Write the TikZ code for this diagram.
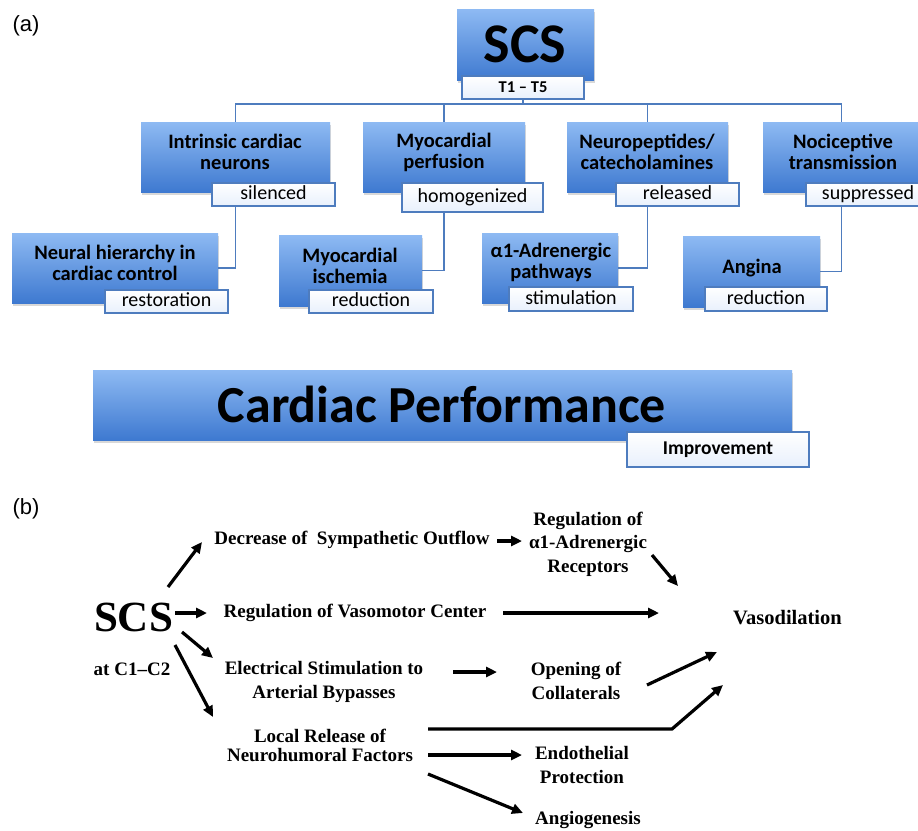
\documentclass[tikz,border=0pt]{standalone}
\usepackage{fontspec}
\setmainfont{Liberation Serif}
\newfontfamily\calib{Carlito}
\newfontfamily\arialf{Liberation Sans}
\usetikzlibrary{shadows,calc,arrows.meta}
\definecolor{boxtop}{RGB}{142,186,243}
\definecolor{boxbot}{RGB}{62,121,208}
\definecolor{tagbot}{RGB}{232,240,252}
\definecolor{linec}{RGB}{78,124,190}
\newcommand\mkbox[6]{\node[#1, minimum width={(#5)-(#3)}, minimum height={(#6)-(#4)}] (#2) at ({((#3)+(#5))/2},{((#4)+(#6))/2}) {};}
\newcommand\mktag[7]{\node[#1, minimum width={(#5)-(#3)}, minimum height={(#6)-(#4)}] (#2) at ({((#3)+(#5))/2},{((#4)+(#6))/2}) {#7};}
\tikzset{
  bluebox/.style={rectangle, inner sep=0pt, top color=boxtop, bottom color=boxbot, draw=none,
    drop shadow={opacity=0.3, shadow xshift=1pt, shadow yshift=-3pt}},
  tagbox/.style={rectangle, inner sep=0pt, top color=white, bottom color=tagbot, draw=linec, line width=1.3pt,
    font=\calib\fontsize{20}{22}\selectfont, text height=13pt, text depth=3pt},
  boldtag/.style={tagbox, font=\calib\bfseries\fontsize{19.5}{22}\selectfont},
  conn/.style={draw=linec, line width=1.5pt},
  boxtxt/.style={font=\calib\bfseries\fontsize{20.5}{21}\selectfont, align=center, inner sep=0pt},
  bigtxt/.style={font=\calib\bfseries\fontsize{52}{56}\selectfont, inner sep=0pt},
  btxt/.style={font=\bfseries\fontsize{19}{23.5}\selectfont, align=center, inner sep=0pt},
  lbl/.style={font=\arialf\fontsize{22}{24}\selectfont, inner sep=0pt},
  arr/.style={-{Triangle[length=11pt,width=10pt]}, line width=3.2pt}
}
\begin{document}
\begin{tikzpicture}[x=1pt,y=-1pt]
\useasboundingbox (0,0) rectangle (918,830);
\fill[white] (0,0) rectangle (918,830);

% ---------- (a) ----------
\node[lbl] (la) at (26,26) {(a)};

% SCS top
\mkbox{bluebox}{a0}{457}{9}{594}{80}
\node[bigtxt, font=\calib\bfseries\fontsize{56}{60}\selectfont] (a0t) at (525,44) {SCS};
\mktag{boldtag, font=\calib\bfseries\fontsize{16.5}{18}\selectfont, text height=11pt, text depth=2pt}{t0}{462}{76}{584}{99}{T1 – T5}

% level 1
\mkbox{bluebox}{b1}{141}{122}{330}{192}
\mkbox{bluebox}{b2}{363}{122}{525}{192}
\mkbox{bluebox}{b3}{567}{122}{728}{192}
\mkbox{bluebox}{b4}{763}{122}{920}{192}
\node[boxtxt] (b1t) at (235,152) {Intrinsic cardiac\\neurons};
\node[boxtxt] (b2t) at (444,152) {Myocardial\\perfusion};
\node[boxtxt] (b3t) at (647,152) {Neuropeptides/\\catecholamines};
\node[boxtxt] (b4t) at (843,152) {Nociceptive\\transmission};
\mktag{tagbox}{s1}{212}{183}{335}{206}{silenced}
\mktag{tagbox}{s2}{402}{183}{543}{212}{homogenized}
\mktag{tagbox}{s3}{616}{183}{739}{206}{released}
\mktag{tagbox}{s4}{806}{183}{930}{206}{suppressed}

% level 2
\mkbox{bluebox}{c1}{12}{233}{218}{303}
\mkbox{bluebox}{c2}{279}{235}{422}{306}
\mkbox{bluebox}{c3}{482}{233}{618}{303}
\mkbox{bluebox}{c4}{683}{236}{820}{307}
\node[boxtxt] (c1t) at (115,263) {Neural hierarchy in\\cardiac control};
\node[boxtxt] (c2t) at (350,266) {Myocardial\\ischemia};
\node[boxtxt] (c3t) at (551,262) {α1-Adrenergic\\pathways};
\node[boxtxt] (c4t) at (752,268) {Angina};
\mktag{tagbox}{r1}{105}{290}{228}{313}{restoration}
\mktag{tagbox}{r2}{309}{290}{433}{313}{reduction}
\mktag{tagbox}{r3}{509}{287}{633}{311}{stimulation}
\mktag{tagbox}{r4}{705}{287}{827}{311}{reduction}

% connectors (a)
\coordinate (bus) at (523,104);
\draw[conn] (t0.south) -- (bus);
\draw[conn] (b1.north) |- (bus);
\draw[conn] (b2.north) |- (bus);
\draw[conn] (b3.north) |- (bus);
\draw[conn] (b4.north) |- (bus);
\draw[conn] (b1.center |- s1.south) |- (c1.east);
\draw[conn] (b2.center |- s2.south) |- (c2.east);
\draw[conn] (b3.center |- s3.south) |- (c3.east);
\draw[conn] (b4.center |- s4.south) |- (c4.east);

% Cardiac performance
\mkbox{bluebox}{cp}{93}{370}{792}{440}
\node[bigtxt] (cpt) at (442,404) {Cardiac Performance};
\mktag{boldtag}{im}{627}{432}{809}{467}{Improvement}

% ---------- (b) ----------
\node[lbl] (lb) at (26,509) {(b)};
\node[font=\bfseries\fontsize{43}{45}\selectfont, inner sep=0pt] (scs) at (133.5,617) {SCS};
\node[btxt] (at) at (132,669) {at C1–C2};
\node[btxt] (dec) at (352,540) {Decrease of~ Sympathetic Outflow};
\node[btxt] (vaso) at (355,613) {Regulation of Vasomotor Center};
\node[btxt] (elec) at (324,682) {Electrical Stimulation to\\Arterial Bypasses};
\node[btxt, font=\bfseries\fontsize{19}{19}\selectfont] (local) at (320,745) {Local Release of\\Neurohumoral Factors};
\node[btxt] (reg) at (588,544) {Regulation of\\α1-Adrenergic\\Receptors};
\node[btxt, font=\bfseries\fontsize{20.5}{23}\selectfont] (vasod) at (787.5,618) {Vasodilation};
\node[btxt] (open) at (576,681) {Opening of\\Collaterals};
\node[btxt] (endo) at (582,765) {Endothelial\\Protection};
\node[btxt] (angio) at (588,820) {Angiogenesis};

\draw[arr] ($(scs)+(34.5,-30)$) -- ($(dec)+(-150,2)$);
\draw[arr] ($(scs)+(41.5,-4)$) -- ($(vaso)+(-148,0)$);
\draw[arr] ($(scs)+(48.5,15)$) -- ($(elec)+(-111,-24)$);
\draw[arr] ($(scs)+(41.5,28)$) -- ($(local)+(-107,-28)$);
\draw[arr] ($(dec)+(145,1)$) -- ($(reg)+(-66,-3)$);
\draw[arr] ($(reg)+(64,11)$) -- ($(vasod)+(-109.5,-32)$);
\draw[arr] ($(vaso)+(148,0)$) -- ($(vasod)+(-128.5,-5)$);
\draw[arr] ($(elec)+(129,-10)$) -- ($(open)+(-79,-9)$);
\draw[arr] ($(open)+(71,4)$) -- ($(vasod)+(-70.5,34)$);
\coordinate (bend) at ($(local)+(352,-16)$);
\draw[arr] ($(local)+(108,-16)$) -- (bend) -- ($(vasod)+(-64.5,67)$);
\draw[arr] ($(local)+(108,10)$) -- ($(endo)+(-60,-10)$);
\draw[arr] ($(local)+(108,29)$) -- ($(angio)+(-65,-7)$);
\end{tikzpicture}
\end{document}
